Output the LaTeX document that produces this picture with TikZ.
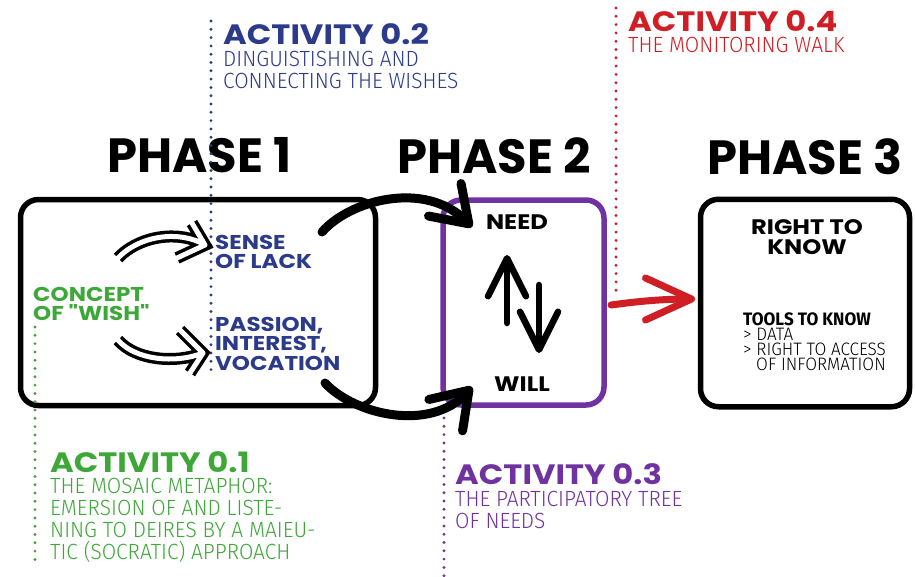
\documentclass[tikz,border=0pt]{standalone}
\usepackage{fontspec}
\setmainfont{Poppins}
\newfontfamily\widefont{Poppins}[FakeStretch=1.15]
\newfontfamily\thinfont{Fira Sans Light}[FakeStretch=0.95]
\newfontfamily\toolfont{Fira Sans}[FakeStretch=0.95]
\usetikzlibrary{arrows.meta,positioning}
\definecolor{wishgreen}{RGB}{61,167,56}
\definecolor{lackblue}{RGB}{44,58,138}
\definecolor{needpurple}{RGB}{112,50,160}
\definecolor{walkred}{RGB}{207,30,36}

\begin{document}
\begin{tikzpicture}[x=1pt,y=-1pt,
    box/.style={draw,line width=5.5pt,rounded corners=18pt,inner sep=0pt},
    phase/.style={anchor=north west,inner sep=0pt,font=\fontsize{48}{48}\selectfont\bfseries},
    acthead/.style={anchor=north west,inner sep=0pt,font=\widefont\fontsize{28}{28}\selectfont\bfseries},
    actbody/.style={anchor=north west,inner sep=0pt,align=left,font=\thinfont\fontsize{22}{22}\selectfont},
    boxtext/.style={anchor=north west,inner sep=0pt,align=left,font=\widefont\fontsize{20}{19.5}\selectfont\bfseries},
    word/.style={inner sep=0pt,align=center,font=\widefont\fontsize{21}{20}\selectfont\bfseries},
    leader/.style={line width=3.2pt,line cap=round,dash pattern=on 0pt off 8.3pt},
    bigarrow/.style={line width=9pt,line cap=round,-{Straight Barb[length=34pt,width=46pt,round]}},
    flip/.style={line width=6.5pt,line cap=round,-{Straight Barb[length=38pt,width=38pt,round]}},
    hollow/.style={white,line width=5pt,line cap=round,line join=round,
      preaction={draw=black,line width=12pt}},
    redarrow/.style={walkred,line width=7pt,line cap=round,-{Straight Barb[length=46pt,width=42pt,round]}}]
  \useasboundingbox (0,0) rectangle (915,576);

  % phases
  \node[phase] (ph1) at (107,137) {PHASE 1};
  \node[phase] (ph2) at (397,137) {PHASE 2};
  \node[phase] (ph3) at (707,138) {PHASE 3};
  \node[box,minimum width=355pt,minimum height=206pt] (box1) at (198,302.5) {};
  \node[box,draw=needpurple,minimum width=161pt,minimum height=205pt] (box2) at (523.5,302.5) {};
  \node[box,minimum width=209pt,minimum height=207.5pt] (box3) at (805,303) {};

  % activities
  \node[acthead,text=lackblue] (act2) at (223,23) {ACTIVITY 0.2};
  \node[actbody,text=lackblue,below=6pt of act2.south west,anchor=north west] (act2txt) {DINGUISTISHING AND\\CONNECTING THE WISHES};
  \node[acthead,text=walkred] (act4) at (628,10) {ACTIVITY 0.4};
  \node[actbody,text=walkred,below=6pt of act4.south west,anchor=north west] (act4txt) {THE MONITORING WALK};
  \node[acthead,text=wishgreen] (act1) at (50,451) {ACTIVITY 0.1};
  \node[actbody,text=wishgreen,below=5pt of act1.south west,anchor=north west] (act1txt) {THE MOSAIC METAPHOR:\\EMERSION OF AND LISTE-\\NING TO DEIRES BY A MAIEU-\\TIC (SOCRATIC) APPROACH};
  \node[acthead,text=needpurple] (act3) at (455,463) {ACTIVITY 0.3};
  \node[actbody,text=needpurple,below=6pt of act3.south west,anchor=north west] (act3txt) {THE PARTICIPATORY TREE\\OF NEEDS};

  % dotted leaders
  \coordinate (l2a) at (211,21);  \coordinate (l2b) at (211,377);
  \coordinate (l4a) at (616,8);   \coordinate (l4b) at (616,297);
  \coordinate (l1a) at (35,327);  \coordinate (l1b) at (35,564);
  \coordinate (l3a) at (444,418); \coordinate (l3b) at (444,576);
  \draw[leader,lackblue] (l2a) -- (l2b);
  \draw[leader,walkred] (l4a) -- (l4b);
  \draw[leader,wishgreen] (l1a) -- (l1b);
  \draw[leader,needpurple] (l3a) -- (l3b);

  % phase 1
  \node[boxtext,text=wishgreen] (wish) at (33,287) {CONCEPT\\OF "WISH"};
  \node[boxtext,text=lackblue] (lack) at (215,235) {SENSE\\OF LACK};
  \node[boxtext,text=lackblue] (passion) at (215,317) {PASSION,\\INTEREST,\\VOCATION};
  \coordinate (w1) at (118,258); \coordinate (w1t) at (205,245);
  \coordinate (w1a) at (192,223); \coordinate (w1b) at (177,258);
  \coordinate (w2) at (118,340); \coordinate (w2t) at (203,353);
  \coordinate (w2a) at (180,330); \coordinate (w2b) at (190,373);
  \draw[hollow] (w1) .. controls (140,235) and (180,230) .. (w1t) (w1a) -- (w1t) -- (w1b);
  \draw[hollow] (w2) .. controls (135,360) and (175,364) .. (w2t) (w2a) -- (w2t) -- (w2b);

  % phase 2
  \node[word] (need) at (517,222) {NEED};
  \node[word] (will) at (522,384.5) {WILL};
  \coordinate (up1) at (507,323); \coordinate (up2) at (507,255);
  \coordinate (dn1) at (539,285); \coordinate (dn2) at (539,353);
  \draw[flip] (up1) -- (up2);
  \draw[flip] (dn1) -- (dn2);
  \coordinate (b1) at (322,232); \coordinate (b1t) at (472,227);
  \coordinate (b2) at (325,383); \coordinate (b2t) at (472,387);
  \draw[bigarrow] (b1) .. controls (350,200) and (425,180) .. (b1t);
  \draw[bigarrow] (b2) .. controls (355,415) and (430,432) .. (b2t);

  % phase 3
  \node[word,anchor=north] (know) at (807,219) {RIGHT TO\\KNOW};
  \node[anchor=north west,inner sep=0pt,align=left,font=\thinfont\fontsize{18}{15}\selectfont] (tools) at (743,313)
    {{\toolfont\bfseries TOOLS TO KNOW}\\> DATA\\> RIGHT TO ACCESS\\\hspace*{13pt}OF INFORMATION};
  \coordinate (r1) at (611,305); \coordinate (r1t) at (695,299);
  \draw[redarrow] (r1) .. controls (640,301) and (665,299) .. (r1t);
\end{tikzpicture}
\end{document}
